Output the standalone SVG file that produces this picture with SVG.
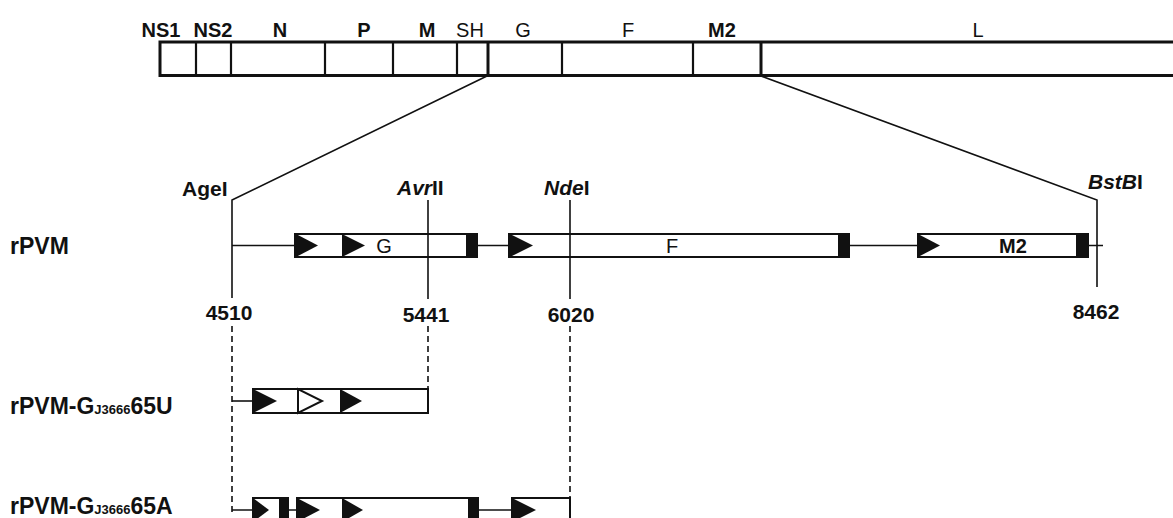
<svg xmlns="http://www.w3.org/2000/svg" width="1173" height="518" viewBox="0 0 1173 518">
<style>
text{font-family:"Liberation Sans",Arial,sans-serif;fill:#111}
.b{font-weight:bold}
.lab{font-size:20px;text-anchor:middle}
.site{font-size:21px;font-weight:bold}
.num{font-size:21px;font-weight:bold;text-anchor:middle}
.row{font-size:23px;font-weight:bold}
.ln{stroke:#111;stroke-width:1.6;fill:none}
.dash{stroke:#111;stroke-width:1.6;fill:none;stroke-dasharray:6 4}
.box{fill:#fff;stroke:#111;stroke-width:2}
.blk{fill:#111}
.tri{fill:#111}
.otri{fill:#fff;stroke:#111;stroke-width:2;stroke-linejoin:miter}
.gl{font-size:20px;text-anchor:middle}
</style>

<g id="genome">
  <rect x="160" y="42" width="1020" height="33.5" fill="#fff" stroke="#111" stroke-width="3"/>
  <g stroke="#111" stroke-width="2.2">
    <line x1="196" y1="42" x2="196" y2="75.5"/>
    <line x1="231" y1="42" x2="231" y2="75.5"/>
    <line x1="325" y1="42" x2="325" y2="75.5"/>
    <line x1="393" y1="42" x2="393" y2="75.5"/>
    <line x1="457" y1="42" x2="457" y2="75.5"/>
    <line x1="562" y1="42" x2="562" y2="75.5"/>
    <line x1="693" y1="42" x2="693" y2="75.5"/>
  </g>
  <g stroke="#111" stroke-width="3">
    <line x1="488" y1="42" x2="488" y2="75.5"/>
    <line x1="761" y1="42" x2="761" y2="75.5"/>
  </g>
  <text class="lab b" x="161" y="37">NS1</text>
  <text class="lab b" x="213" y="37">NS2</text>
  <text class="lab b" x="280" y="37">N</text>
  <text class="lab b" x="364" y="37">P</text>
  <text class="lab b" x="427" y="37">M</text>
  <text class="lab" x="470" y="37">SH</text>
  <text class="lab" x="523" y="37">G</text>
  <text class="lab" x="628" y="37">F</text>
  <text class="lab b" x="722" y="37">M2</text>
  <text class="lab" x="978" y="37">L</text>
</g>

<g id="connectors">
  <polyline class="ln" points="487,76 232,200 232,298"/>
  <polyline class="ln" points="761,76 1097,200 1097,287"/>
  <line class="ln" x1="232" y1="245.5" x2="1103" y2="245.5"/>
  <line class="dash" x1="232" y1="326" x2="232" y2="512"/>
  <line class="dash" x1="428" y1="326" x2="428" y2="389"/>
  <line class="dash" x1="570" y1="326" x2="570" y2="498"/>
  <line class="ln" x1="232" y1="401" x2="253" y2="401"/>
  <line class="ln" x1="232" y1="510" x2="512" y2="510"/>
</g>

<g id="sites">
  <text class="site" x="182" y="196">AgeI</text>
  <text class="site" x="397" y="195"><tspan font-style="italic">Avr</tspan>II</text>
  <text class="site" x="544" y="195"><tspan font-style="italic">Nde</tspan>I</text>
  <text class="site" x="1088" y="189"><tspan font-style="italic">BstB</tspan>I</text>
  <text class="num" x="229" y="320">4510</text>
  <text class="num" x="426" y="322">5441</text>
  <text class="num" x="571" y="322">6020</text>
  <text class="num" x="1096" y="319">8462</text>
</g>

<g id="rPVM">
  <text class="row" x="10" y="254">rPVM</text>
  <g id="gene-G">
    <rect class="box" x="295" y="234" width="182" height="23"/>
    <polygon class="tri" points="296,234 296,257 318,245.5"/>
    <polygon class="tri" points="342,234 342,257 365,245.5"/>
    <rect class="blk" x="466" y="234" width="11" height="23"/>
    <text class="gl" x="384" y="253">G</text>
  </g>
  <g id="gene-F">
    <rect class="box" x="509" y="234" width="340" height="23"/>
    <polygon class="tri" points="510,234 510,257 533,245.5"/>
    <rect class="blk" x="838" y="234" width="11" height="23"/>
    <text class="gl" x="672" y="253">F</text>
  </g>
  <g id="gene-M2">
    <rect class="box" x="918" y="234" width="170" height="23"/>
    <polygon class="tri" points="918,234 918,257 940,245.5"/>
    <rect class="blk" x="1076" y="234" width="12" height="23"/>
    <text class="gl b" x="1013" y="253">M2</text>
  </g>
  <line class="ln" x1="428" y1="200" x2="428" y2="299"/>
  <line class="ln" x1="570" y1="200" x2="570" y2="299"/>
</g>

<g id="rPVM-U">
  <text class="row" x="10" y="414">rPVM-G<tspan font-size="13">J3666</tspan>65U</text>
  <rect class="box" x="253" y="389" width="175" height="24"/>
  <polygon class="tri" points="253,389 253,413 277,401"/>
  <polygon class="otri" points="298,389 298,413 322,401"/>
  <polygon class="tri" points="340,389 340,413 362,401"/>
</g>

<g id="rPVM-A">
  <text class="row" x="10" y="514">rPVM-G<tspan font-size="13">J3666</tspan>65A</text>
  <rect class="box" x="253" y="498" width="35" height="24"/>
  <polygon class="tri" points="253,498 253,522 269,510"/>
  <rect class="blk" x="279" y="498" width="9" height="24"/>
  <rect class="box" x="297" y="498" width="181" height="24"/>
  <polygon class="tri" points="297,498 297,522 320,510"/>
  <polygon class="tri" points="342,498 342,522 363,510"/>
  <rect class="blk" x="468" y="498" width="10" height="24"/>
  <rect class="box" x="512" y="498" width="58" height="24"/>
  <polygon class="tri" points="512,498 512,522 536,510"/>
</g>
</svg>
